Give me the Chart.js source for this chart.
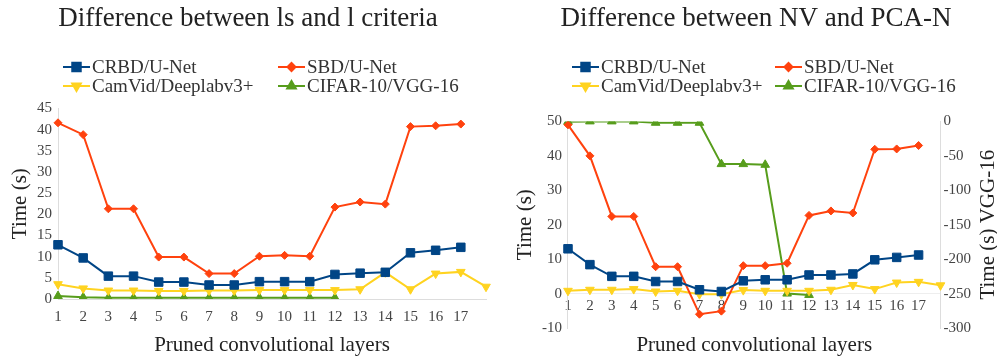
<!DOCTYPE html>
<html>
<head>
<meta charset="utf-8">
<script src="https://cdn.jsdelivr.net/npm/chart.js@4.4.1/dist/chart.umd.min.js"></script>
<style>
  html, body { margin: 0; padding: 0; background: #fff; }
  #wrap { position: relative; width: 997px; height: 356px; }
  .box { position: absolute; top: 0; height: 356px; }
  #leftBox { left: 0; width: 498px; }
  #rightBox { left: 498px; width: 499px; }
</style>
</head>
<body>
<div id="wrap">
  <div class="box" id="leftBox"><canvas id="lsChart"></canvas></div>
  <div class="box" id="rightBox"><canvas id="nvChart"></canvas></div>
</div>
<script>
// data
const layers = ['1','2','3','4','5','6','7','8','9','10','11','12','13','14','15','16','17',''];
const seriesNames = ['CRBD/U-Net', 'SBD/U-Net', 'CamVid/Deeplabv3+', 'CIFAR-10/VGG-16'];

// left: ls vs l criteria
const lsCrbd   = [12.8, 9.7, 5.4, 5.4, 4.0, 4.0, 3.3, 3.3, 4.1, 4.1, 4.1, 5.8, 6.1, 6.3, 10.9, 11.5, 12.2, null];
const lsSbd    = [41.6, 38.8, 21.3, 21.3, 9.9, 9.9, 6.0, 6.0, 10.1, 10.3, 10.1, 21.7, 22.9, 22.4, 40.7, 40.9, 41.3, null];
const lsCamvid = [3.5, 2.5, 2.0, 2.0, 1.9, 1.9, 2.0, 2.0, 2.1, 2.1, 2.1, 2.1, 2.3, 6.3, 2.3, 6.0, 6.4, 2.9];
const lsCifar  = [0.7, 0.4, 0.3, 0.3, 0.3, 0.3, 0.3, 0.3, 0.3, 0.3, 0.3, 0.3, null, null, null, null, null, null];

// right: NV vs PCA-N (CIFAR on the right axis)
const nvCrbd   = [13.0, 8.4, 5.0, 5.0, 3.5, 3.5, 1.1, 0.6, 3.7, 4.0, 4.0, 5.4, 5.4, 5.7, 9.8, 10.5, 11.2, null];
const nvSbd    = [49.0, 40.0, 22.4, 22.4, 7.8, 7.8, -6.0, -5.1, 8.1, 8.1, 8.8, 22.7, 24.0, 23.4, 41.9, 42.0, 43.0, null];
const nvCamvid = [0.8, 1.1, 1.1, 1.3, 0.6, 0.8, -0.2, -0.2, 1.0, 0.8, 0.8, 0.8, 1.1, 2.5, 1.3, 3.2, 3.4, 2.4];
const nvCifar  = [-0.5, 0, 0, 0, -2, -2, -2, -62, -62, -63, -250, -252, null, null, null, null, null, null];

const FONT = "'Liberation Serif', 'DejaVu Serif', serif";
Chart.defaults.font.family = FONT;
Chart.defaults.color = '#333';

// libreoffice-ish palette + markers
const styles = [
  { color: '#004586', pointStyle: 'rect',    radius: 6, rotation: 0 },
  { color: '#ff420e', pointStyle: 'rectRot', radius: 4, rotation: 0 },
  { color: '#ffd320', pointStyle: 'triangle', radius: 5, rotation: 180 },
  { color: '#579d1c', pointStyle: 'triangle', radius: 5, rotation: 0 }
];

function makeSet(i, data, axis) {
  const s = styles[i];
  return {
    label: seriesNames[i],
    data: data,
    yAxisID: axis || 'y',
    borderColor: s.color,
    backgroundColor: s.color,
    borderWidth: 2,
    pointStyle: s.pointStyle,
    pointRadius: s.radius,
    pointRotation: s.rotation,
    pointBorderWidth: 1,
    tension: 0,
    spanGaps: false
  };
}

// 2x2 key drawn on the canvas, plus extra axis titles
const seriesKey = {
  id: 'seriesKey',
  afterDraw(chart, args, opts) {
    const ctx = chart.ctx;
    ctx.save();
    chart.data.datasets.forEach((ds, i) => {
      const x = opts.cols[i % 2], y = opts.rows[Math.floor(i / 2)];
      ctx.strokeStyle = ds.borderColor;
      ctx.fillStyle = ds.backgroundColor;
      ctx.lineWidth = 2;
      ctx.beginPath();
      ctx.moveTo(x, y);
      ctx.lineTo(x + opts.lineLen, y);
      ctx.stroke();
      Chart.helpers.drawPoint(ctx, {
        pointStyle: ds.pointStyle, radius: ds.pointRadius, rotation: ds.pointRotation, borderWidth: 1
      }, x + opts.lineLen / 2, y);
      ctx.fillStyle = '#333';
      ctx.font = opts.fontSize + 'px ' + FONT;
      ctx.textBaseline = 'middle';
      ctx.textAlign = 'left';
      ctx.fillText(ds.label, x + opts.lineLen + 2, y + 1);
    });
    ctx.fillStyle = '#222';
    ctx.font = '21px ' + FONT;
    ctx.textAlign = 'center';
    ctx.textBaseline = 'middle';
    if (opts.bottomText) {
      const a = chart.chartArea;
      ctx.fillText(opts.bottomText, (a.left + a.right) / 2, opts.bottomY);
    }
    if (opts.rightText) {
      const a = chart.chartArea;
      ctx.translate(opts.rightX, (a.top + a.bottom) / 2);
      ctx.rotate(-Math.PI / 2);
      ctx.fillText(opts.rightText, 0, 0);
    }
    ctx.restore();
  }
};

const tickFont = { size: 15 };
const titleFont = { size: 21, lineHeight: 1 };
const noGrid = { display: false, drawTicks: false };

new Chart(document.getElementById('lsChart'), {
  type: 'line',
  data: {
    labels: layers,
    datasets: [makeSet(0, lsCrbd), makeSet(1, lsSbd), makeSet(2, lsCamvid), makeSet(3, lsCifar)]
  },
  options: {
    responsive: true,
    maintainAspectRatio: false,
    animation: false,
    layout: { padding: { left: 10, right: 12, top: 0, bottom: 0 } },
    plugins: {
      legend: { display: false },
      tooltip: { enabled: false },
      title: {
        display: true, text: 'Difference between ls and l criteria',
        font: { size: 27, weight: 'normal' }, color: '#222',
        padding: { top: 3, bottom: 73 }
      },
      seriesKey: { cols: [63, 278], rows: [67, 86], lineLen: 27, fontSize: 19 }
    },
    scales: {
      x: {
        offset: false,
        grid: noGrid,
        border: { color: '#ddd' },
        ticks: { font: tickFont, color: '#444', padding: 9, maxRotation: 0, autoSkip: false },
        title: { display: true, text: 'Pruned convolutional layers', font: titleFont, color: '#222', padding: 0 }
      },
      y: {
        min: 0, max: 45,
        grid: noGrid,
        border: { color: '#ddd' },
        ticks: { stepSize: 5, font: tickFont, color: '#444', padding: 6, autoSkip: false },
        title: { display: true, text: 'Time (s)', font: titleFont, color: '#222', padding: 0 }
      }
    }
  },
  plugins: [seriesKey]
});

new Chart(document.getElementById('nvChart'), {
  type: 'line',
  data: {
    labels: layers,
    datasets: [makeSet(0, nvCrbd), makeSet(1, nvSbd), makeSet(2, nvCamvid), makeSet(3, nvCifar, 'y2')]
  },
  options: {
    responsive: true,
    maintainAspectRatio: false,
    animation: false,
    layout: { padding: { left: 17, right: 0, top: 0, bottom: 28 } },
    plugins: {
      legend: { display: false },
      tooltip: { enabled: false },
      title: {
        display: true, text: 'Difference between NV and PCA-N',
        font: { size: 27, weight: 'normal' }, color: '#222',
        padding: { top: 3, bottom: 86 }
      },
      seriesKey: {
        cols: [74, 277], rows: [67, 86], lineLen: 27, fontSize: 19,
        bottomText: 'Pruned convolutional layers', bottomY: 345,
        rightText: 'Time (s) VGG-16', rightX: 490
      }
    },
    scales: {
      x: {
        position: { y: 0 },
        offset: false,
        grid: noGrid,
        border: { color: '#eee' },
        ticks: { font: tickFont, color: '#444', padding: 3, maxRotation: 0, autoSkip: false }
      },
      y: {
        min: -10, max: 50,
        grid: noGrid,
        border: { color: '#ddd' },
        ticks: { stepSize: 10, font: tickFont, color: '#444', padding: 6 },
        title: { display: true, text: 'Time (s)', font: titleFont, color: '#222', padding: 0 }
      },
      y2: {
        position: 'right',
        min: -300, max: 0,
        grid: noGrid,
        border: { color: '#ddd' },
        ticks: { stepSize: 50, font: tickFont, color: '#444', padding: 3 },
        title: { display: true, text: 'Time (s) VGG-16', font: titleFont, color: 'rgba(0,0,0,0)', padding: { top: 2, bottom: 0 } }
      }
    }
  },
  plugins: [seriesKey]
});
</script>
</body>
</html>
